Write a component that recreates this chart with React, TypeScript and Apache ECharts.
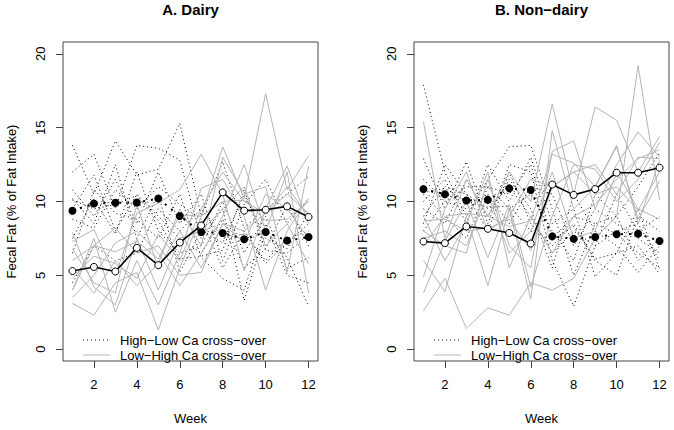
import React, { useEffect, useRef } from "react";
import * as echarts from "echarts";

const weeks = [1, 2, 3, 4, 5, 6, 7, 8, 9, 10, 11, 12];
const xTicks = [2, 4, 6, 8, 10, 12];
const yTicks = [0, 5, 10, 15, 20];

const titles = ["A. Dairy", "B. Non\u2212dairy"];
const HL = "High\u2212Low Ca cross\u2212over";
const LH = "Low\u2212High Ca cross\u2212over";
const legendLabels = [HL, LH];

// Panel A: Dairy — individual subjects
const dairyHighLow = [
  [13.8, 10.5, 14.1, 11.8, 12.2, 15.3, 9.0, 12.7, 8.2, 9.5, 10.5, 11.7],
  [12.0, 13.2, 9.5, 13.8, 13.6, 12.8, 7.5, 9.5, 3.3, 8.0, 6.2, 2.9],
  [10.8, 9.0, 11.5, 8.5, 12.0, 8.5, 10.5, 6.0, 9.8, 11.5, 8.5, 10.2],
  [9.5, 11.8, 8.0, 10.5, 9.0, 7.5, 6.5, 8.8, 5.5, 6.8, 9.8, 7.0],
  [8.8, 8.2, 10.8, 9.5, 11.0, 9.8, 8.8, 5.5, 8.0, 5.8, 7.2, 8.5],
  [7.5, 10.2, 7.8, 12.0, 8.0, 6.5, 7.0, 10.0, 6.5, 9.0, 5.5, 6.2],
  [10.2, 8.5, 12.5, 7.5, 10.5, 5.2, 8.0, 7.2, 10.5, 7.5, 6.8, 9.2],
  [6.5, 10.8, 9.2, 8.8, 7.5, 10.5, 6.2, 4.8, 4.0, 8.5, 5.0, 4.5],
  [4.5, 7.0, 6.0, 6.5, 9.5, 8.0, 9.5, 7.5, 7.8, 6.0, 7.5, 8.0],
  [10.1, 9.5, 9.8, 10.4, 8.7, 6.1, 6.3, 6.7, 10.8, 6.7, 6.5, 7.8],
];
const dairyLowHigh = [
  [3.1, 2.3, 4.5, 5.2, 1.3, 5.5, 9.0, 13.7, 10.2, 17.3, 10.8, 13.1],
  [7.3, 8.1, 5.0, 9.2, 9.9, 10.8, 13.2, 10.5, 5.3, 9.5, 12.4, 8.5],
  [4.0, 7.5, 2.5, 6.0, 3.0, 6.5, 10.9, 11.5, 9.0, 4.0, 8.0, 10.2],
  [5.5, 3.8, 6.0, 4.3, 5.8, 9.5, 7.0, 13.0, 10.5, 11.0, 5.2, 12.4],
  [3.5, 5.0, 7.2, 8.0, 6.5, 4.3, 6.5, 9.0, 12.5, 8.0, 12.0, 3.8],
  [6.8, 4.5, 3.8, 9.8, 5.5, 8.0, 5.5, 8.5, 7.2, 10.5, 9.5, 7.5],
  [4.8, 6.3, 5.8, 4.8, 7.8, 6.0, 9.5, 12.0, 10.0, 9.2, 11.0, 9.0],
  [7.9, 4.2, 3.0, 7.5, 4.0, 7.5, 8.0, 9.5, 11.0, 7.0, 8.5, 5.8],
  [6.0, 7.0, 8.2, 6.5, 7.0, 5.0, 5.2, 8.5, 8.0, 9.2, 10.5, 9.2],
  [4.0, 7.0, 6.6, 7.3, 6.1, 9.1, 9.0, 10.0, 10.1, 8.7, 8.8, 10.0],
];
const dairyMeanHighLow = [9.37, 9.87, 9.91, 9.93, 10.2, 9.02, 7.93, 7.87, 7.44, 7.93, 7.35, 7.6];
const dairyMeanLowHigh = [5.29, 5.57, 5.26, 6.86, 5.69, 7.22, 8.38, 10.62, 9.38, 9.44, 9.67, 8.95];

// Panel B: Non-dairy — individual subjects
const nonDairyHighLow = [
  [17.9, 12.0, 9.0, 11.5, 13.7, 13.8, 9.5, 5.0, 8.5, 9.0, 11.0, 13.3],
  [12.9, 9.5, 12.7, 8.5, 12.5, 12.0, 6.0, 2.9, 7.0, 10.5, 8.0, 9.0],
  [10.0, 11.5, 8.5, 12.5, 10.0, 13.0, 8.5, 9.5, 4.9, 6.5, 9.5, 5.4],
  [9.5, 8.5, 11.5, 9.0, 11.5, 9.5, 5.5, 10.5, 8.0, 7.0, 5.2, 7.0],
  [11.5, 10.0, 9.5, 10.5, 8.5, 11.0, 10.5, 7.0, 9.5, 8.5, 7.5, 6.5],
  [8.5, 12.5, 10.5, 8.0, 12.0, 8.5, 7.0, 8.5, 6.0, 5.0, 9.0, 8.0],
  [10.5, 9.0, 7.5, 11.0, 9.5, 10.5, 8.0, 6.0, 10.5, 9.0, 6.0, 7.5],
  [9.0, 11.0, 10.5, 9.5, 11.0, 9.0, 6.5, 8.0, 7.0, 8.0, 8.5, 6.0],
  [8.0, 10.0, 11.0, 11.0, 10.5, 12.5, 7.5, 9.0, 8.5, 7.8, 6.5, 5.5],
  [10.6, 10.9, 10.0, 9.6, 9.7, 8.0, 7.4, 8.3, 6.1, 6.5, 7.0, 5.1],
];
const nonDairyLowHigh = [
  [15.4, 7.5, 11.5, 9.0, 12.0, 10.0, 16.6, 10.5, 16.4, 15.5, 12.0, 14.4],
  [2.6, 4.8, 1.4, 2.8, 2.3, 4.5, 4.0, 4.8, 7.5, 9.0, 19.2, 10.1],
  [6.0, 3.9, 9.0, 4.3, 9.5, 3.4, 14.8, 9.5, 11.0, 13.8, 8.5, 12.8],
  [8.0, 7.0, 6.5, 11.5, 7.0, 5.5, 13.4, 14.1, 9.5, 12.5, 14.7, 13.0],
  [4.9, 9.5, 12.0, 8.0, 9.0, 11.5, 11.0, 12.0, 12.5, 10.5, 13.0, 12.9],
  [7.5, 8.0, 7.0, 10.5, 6.5, 8.0, 12.0, 7.5, 8.0, 12.0, 9.5, 8.8],
  [3.8, 7.3, 10.0, 6.2, 9.8, 4.2, 9.0, 12.5, 12.2, 10.0, 11.5, 14.0],
  [9.0, 6.0, 8.5, 12.0, 5.5, 9.0, 6.5, 9.0, 9.8, 11.5, 12.9, 13.5],
  [7.0, 9.0, 9.2, 9.0, 8.3, 8.7, 13.2, 12.6, 11.0, 13.7, 8.8, 11.4],
  [8.7, 8.8, 8.0, 8.2, 8.8, 6.7, 11.0, 12.0, 10.5, 11.0, 9.4, 12.0],
];
const nonDairyMeanHighLow = [10.84, 10.49, 10.07, 10.11, 10.89, 10.78, 7.64, 7.47, 7.6, 7.78, 7.82, 7.33];
const nonDairyMeanLowHigh = [7.29, 7.18, 8.31, 8.15, 7.87, 7.15, 11.15, 10.45, 10.84, 11.95, 11.95, 12.29];

const FONT = '"Liberation Sans", Arial, Helvetica, sans-serif';
const GRAY = "#b4b4b4";
const AXISC = "#444";

const pairs = (vals: number[]) => weeks.map((w, i) => [w, vals[i]]);

function panelSeries(idx: number, hl: number[][], lh: number[][], mHL: number[], mLH: number[]) {
  const s: any[] = [];
  hl.forEach((v) =>
    s.push({
      type: "line", name: HL, xAxisIndex: idx, yAxisIndex: idx, data: pairs(v),
      symbol: "none", silent: true, z: 2,
      lineStyle: { color: "#000", width: 1, type: [1, 3] },
    })
  );
  lh.forEach((v) =>
    s.push({
      type: "line", name: LH, xAxisIndex: idx, yAxisIndex: idx, data: pairs(v),
      symbol: "none", silent: true, z: 2,
      lineStyle: { color: GRAY, width: 1, type: "solid" },
    })
  );
  s.push({
    type: "line", name: "mean HL " + idx, xAxisIndex: idx, yAxisIndex: idx, data: pairs(mHL),
    symbol: "circle", symbolSize: 8, silent: true, z: 4,
    lineStyle: { color: "#000", width: 2, type: [2, 6] }, itemStyle: { color: "#000" },
  });
  s.push({
    type: "line", name: "mean LH " + idx, xAxisIndex: idx, yAxisIndex: idx, data: pairs(mLH),
    symbol: "circle", symbolSize: 7, silent: true, z: 4,
    lineStyle: { color: "#000", width: 1.6 },
    itemStyle: { color: "#fff", borderColor: "#000", borderWidth: 1 },
  });
  return s;
}

const grids = [
  { left: 63, top: 42, width: 255, height: 323 },
  { left: 414, top: 42, width: 255, height: 323 },
];

function legendGraphic(x0: number) {
  const rows = [340, 355];
  const els: any[] = [];
  rows.forEach((y, i) => {
    els.push({
      type: "line", silent: true,
      shape: { x1: x0, y1: y, x2: x0 + 27, y2: y },
      style: i === 0
        ? { stroke: "#000", lineWidth: 1, lineDash: [1, 3] }
        : { stroke: GRAY, lineWidth: 1 },
    });
    els.push({
      type: "text", silent: true, x: x0 + 37, y: y,
      style: { text: legendLabels[i], fill: "#000", font: "13px " + FONT, textAlign: "left", textVerticalAlign: "middle", verticalAlign: "middle" },
    });
  });
  return els;
}

export default function App() {
  const ref = useRef<HTMLDivElement>(null);
  useEffect(() => {
    if (!ref.current) return;
    const chart = echarts.init(ref.current, undefined, { renderer: "svg" });
    const xAxes = [0, 1].map((i) => ({
      type: "value", gridIndex: i, min: 0.56, max: 12.44,
      axisLine: { show: false, onZero: false },
      splitLine: { show: false },
      axisTick: { show: true, length: 7, customValues: xTicks, lineStyle: { color: AXISC } },
      axisLabel: { customValues: xTicks, margin: 17, fontSize: 13, color: "#000", fontFamily: FONT },
      name: "Week", nameLocation: "middle", nameGap: 51,
      nameTextStyle: { fontSize: 13, color: "#000", fontFamily: FONT },
    }));
    const yAxes = [0, 1].map((i) => ({
      type: "value", gridIndex: i, min: -0.8, max: 20.8,
      axisLine: { show: false, onZero: false },
      splitLine: { show: false },
      axisTick: { show: true, length: 7, customValues: yTicks, lineStyle: { color: AXISC } },
      axisLabel: { customValues: yTicks, rotate: 90, margin: 16, fontSize: 13, color: "#000", fontFamily: FONT },
      name: "Fecal Fat (% of Fat Intake)", nameLocation: "middle", nameGap: 45,
      nameTextStyle: { fontSize: 13, color: "#000", fontFamily: FONT },
    }));
    chart.setOption({
      animation: false,
      backgroundColor: "#fff",
      title: [
        { text: titles[0], left: 190.5, top: 2, textAlign: "center", padding: 0,
          textStyle: { fontSize: 15, fontWeight: "bold", color: "#000", fontFamily: FONT } },
        { text: titles[1], left: 541.5, top: 2, textAlign: "center", padding: 0,
          textStyle: { fontSize: 15, fontWeight: "bold", color: "#000", fontFamily: FONT } },
      ],
      grid: grids.map((g) => ({ ...g, show: true, borderColor: AXISC, borderWidth: 1, backgroundColor: "transparent" })),
      xAxis: xAxes,
      yAxis: yAxes,
      series: [
        ...panelSeries(0, dairyHighLow, dairyLowHigh, dairyMeanHighLow, dairyMeanLowHigh),
        ...panelSeries(1, nonDairyHighLow, nonDairyLowHigh, nonDairyMeanHighLow, nonDairyMeanLowHigh),
      ],
      graphic: [...legendGraphic(83), ...legendGraphic(434)],
    });
    return () => chart.dispose();
  }, []);
  return <div ref={ref} style={{ position: "fixed", left: 0, top: 0, width: 674, height: 430 }} />;
}
